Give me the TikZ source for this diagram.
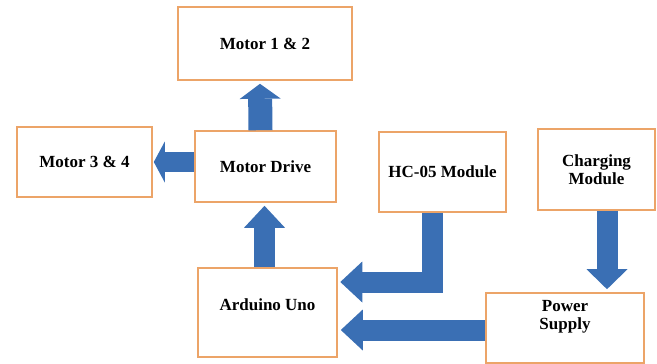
\documentclass[tikz,border=0pt]{standalone}
\usepackage{fontspec}
\setmainfont{Liberation Serif}
\usepackage{xcolor}
\usepackage{tikz}
\usetikzlibrary{
    arrows.meta
}

\definecolor{boxorange}{RGB}{236,164,104}
\definecolor{arrowblue}{RGB}{58,111,180}

\begin{document}
\begin{tikzpicture}[
    x=1pt, y=-1pt,
    block/.style={
        draw=boxorange,
        line width=1.6pt,
        fill=white,
        align=center,
        inner sep=2pt,
        font=\fontsize{17}{18}\selectfont\bfseries
    },
    blockarrow/.style={
        draw=arrowblue,
        line width=21pt,
        line join=miter,
        -{Triangle[width=41pt, length=#1, line width=0pt]}
    },
    blockarrow/.default=22pt
]

\useasboundingbox (0,0) rectangle (657,364);

% blocks
\node[block, minimum width=174pt, minimum height=73pt] (m12) at (265,43.5) {Motor 1 \& 2};
\node[block, minimum width=135pt, minimum height=70pt] (m34) at (84.5,162) {Motor 3 \& 4};
\node[block, minimum width=141pt, minimum height=71pt] (drive) at (265.5,166.5) {Motor Drive};
\node[block, minimum width=127pt, minimum height=80pt] (hc05) at (442.5,172) {HC-05 Module};
\node[block, minimum width=117pt, minimum height=81pt] (charge) at (596.5,169.5) {Charging\\Module};
\node[block, minimum width=139pt, minimum height=89pt, text depth=15pt] (uno) at (267.5,312.5) {Arduino Uno};
\node[block, minimum width=158pt, minimum height=70pt, text depth=27pt] (power) at (565,328) {Power\\Supply};

% block arrows
\draw[blockarrow=15pt, line width=24pt] ([xshift=-5pt]drive.north) -- ([xshift=-5pt,yshift=-3pt]m12.south);
\draw[blockarrow=11pt, line width=20pt] ([yshift=4.5pt]drive.west) -- ([xshift=1pt]m34.east);
\draw[blockarrow] ([xshift=-3pt]uno.north) -- ([xshift=-1pt,yshift=-3pt]drive.south);
\draw[blockarrow] ([xshift=-10pt]hc05.south) |- ([xshift=2.5pt,yshift=30.5pt]uno.east);
\draw[blockarrow] ([yshift=-2pt]power.west) -- ([xshift=3pt,yshift=-17.5pt]uno.east);
\draw[blockarrow=20pt] ([xshift=10.5pt]charge.south) -- ([xshift=42pt,yshift=3pt]power.north);

\end{tikzpicture}
\end{document}
